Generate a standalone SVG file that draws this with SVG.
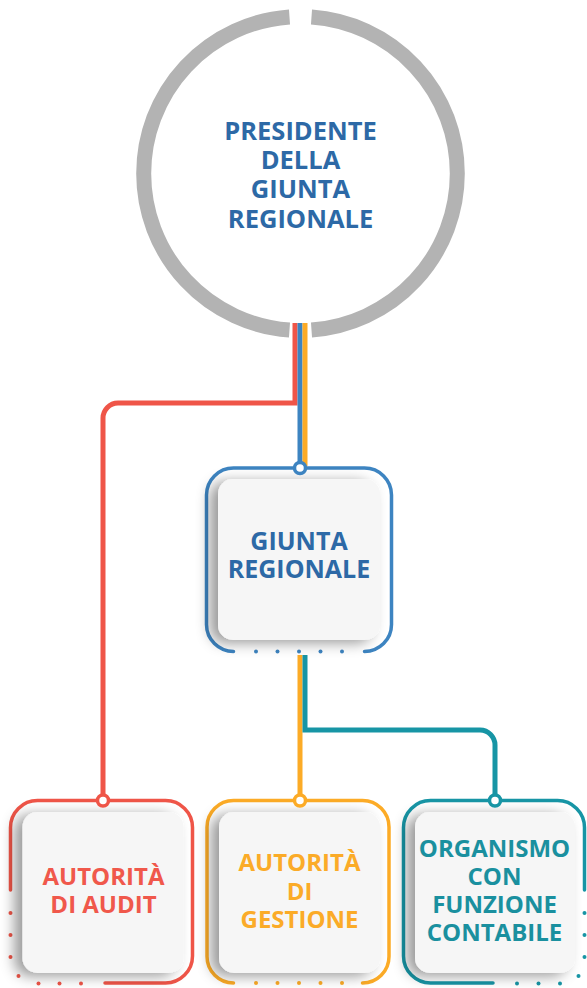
<svg xmlns="http://www.w3.org/2000/svg" width="587" height="988" viewBox="0 0 587 988">
<defs>
<filter id="sh" x="-30%" y="-30%" width="160%" height="160%">
<feGaussianBlur in="SourceAlpha" stdDeviation="7"/>
<feOffset dx="-8" dy="3" result="b"/>
<feFlood flood-color="#000" flood-opacity="0.4"/>
<feComposite in2="b" operator="in"/>
<feMerge><feMergeNode/><feMergeNode in="SourceGraphic"/></feMerge>
</filter>
<style>
.t{font-family:"Open Sans","Liberation Sans",sans-serif;font-weight:700;font-size:24px;text-anchor:middle}
.big{font-size:25.5px}
.mid{font-size:25px}
.inner{fill:#f6f6f6;filter:url(#sh)}
.frame{fill:none;stroke-width:3.5;stroke-linecap:round}
.ln{fill:none;stroke-width:5}
.nc{fill:#fff;stroke-width:3.5}
.blue{stroke:#3d84c1}
.red{stroke:#ef5548}
.org{stroke:#fcab26}
.teal{stroke:#1795a5}
</style>
</defs>
<rect width="587" height="988" fill="#fff"/>

<g id="president">
<path d="M311.5,16.9 A157,157 0 0 1 311.5,330.1" fill="none" stroke="#b3b3b3" stroke-width="15"/>
<path d="M289.5,330.1 A157,157 0 0 1 289.5,16.9" fill="none" stroke="#b3b3b3" stroke-width="15"/>
<text class="t big" fill="#2d69a6"><tspan x="300.5" y="140">PRESIDENTE</tspan><tspan x="300.5" y="169">DELLA</tspan><tspan x="300.5" y="198">GIUNTA</tspan><tspan x="300.5" y="227.5">REGIONALE</tspan></text>
</g>

<g id="connectors">
<path class="ln red" d="M295,323 V403 H118 A15,15 0 0 0 103,418 V796"/>
<path class="ln blue" d="M300,323 V464"/>
<path class="ln org" d="M305,323 V466"/>
<path class="ln org" d="M300,655 V796"/>
<path class="ln teal" d="M305,655 V730 H480 A15,15 0 0 1 495,745 V796"/>
</g>

<g id="giunta">
<path class="frame blue" d="M233.5,651.5 A27,27 0 0 1 206.5,624.5 V495 A27,27 0 0 1 233.5,468 H364.5 A27,27 0 0 1 391.5,495 V624.5 A27,27 0 0 1 364.5,651.5"/>
<g fill="#3d84c1"><circle cx="256" cy="651.5" r="2"/><circle cx="277.5" cy="651.5" r="2"/><circle cx="299" cy="651.5" r="2"/><circle cx="320.5" cy="651.5" r="2"/><circle cx="342" cy="651.5" r="2"/></g>
<rect class="inner" x="218" y="479" width="162" height="161" rx="15"/>
<text class="t mid" fill="#2d69a6"><tspan x="299" y="550">GIUNTA</tspan><tspan x="299" y="578">REGIONALE</tspan></text>
<circle class="nc blue" cx="300" cy="468" r="5.5"/>
</g>

<g id="audit">
<path class="frame red" d="M10.5,890 V827.5 A27,27 0 0 1 37.5,800.5 H165.5 A27,27 0 0 1 192.5,827.5 V956 A27,27 0 0 1 165.5,983 H105"/>
<g fill="#ef5548"><circle cx="10.5" cy="913" r="2"/><circle cx="10.5" cy="935" r="2"/><circle cx="10.5" cy="957" r="2"/><circle cx="18.5" cy="976" r="2"/><circle cx="38.5" cy="983.5" r="2"/><circle cx="59.5" cy="983.5" r="2"/><circle cx="81" cy="983.5" r="2"/></g>
<rect class="inner" x="22.5" y="812" width="161" height="161" rx="15"/>
<text class="t" fill="#f0584b"><tspan x="103.5" y="885">AUTORITÀ</tspan><tspan x="103.5" y="913">DI AUDIT</tspan></text>
<circle class="nc red" cx="103" cy="800.5" r="5.5"/>
</g>

<g id="gestione">
<path class="frame org" d="M233.5,983 A26.5,26.5 0 0 1 207,956.5 V827 A26.5,26.5 0 0 1 233.5,800.5 H362.5 A26.5,26.5 0 0 1 389,827 V956.5 A26.5,26.5 0 0 1 362.5,983"/>
<g fill="#fcab26"><circle cx="256" cy="983" r="2"/><circle cx="277.5" cy="983" r="2"/><circle cx="299" cy="983" r="2"/><circle cx="320.5" cy="983" r="2"/><circle cx="342" cy="983" r="2"/></g>
<rect class="inner" x="219" y="812" width="161" height="161" rx="15"/>
<text class="t" fill="#fbab28"><tspan x="299.5" y="870.5">AUTORITÀ</tspan><tspan x="299.5" y="899.5">DI</tspan><tspan x="299.5" y="928">GESTIONE</tspan></text>
<circle class="nc org" cx="300" cy="800.5" r="5.5"/>
</g>

<g id="organismo">
<path class="frame teal" d="M493,983 H430.5 A27,27 0 0 1 403.5,956 V827.5 A27,27 0 0 1 430.5,800.5 H557.5 A27,27 0 0 1 584.5,827.5 V890"/>
<g fill="#1795a5"><circle cx="584.5" cy="913" r="2"/><circle cx="584.5" cy="935" r="2"/><circle cx="584.5" cy="957" r="2"/><circle cx="578.5" cy="976" r="2"/><circle cx="560" cy="983.5" r="2"/><circle cx="538.5" cy="983.5" r="2"/><circle cx="517" cy="983.5" r="2"/></g>
<rect class="inner" x="415" y="812" width="160" height="161" rx="15"/>
<text class="t" fill="#1a909f"><tspan x="494.5" y="856.5">ORGANISMO</tspan><tspan x="494.5" y="884.5">CON</tspan><tspan x="494.5" y="912.5">FUNZIONE</tspan><tspan x="494.5" y="940.5">CONTABILE</tspan></text>
<circle class="nc teal" cx="495" cy="800.5" r="5.5"/>
</g>
</svg>
